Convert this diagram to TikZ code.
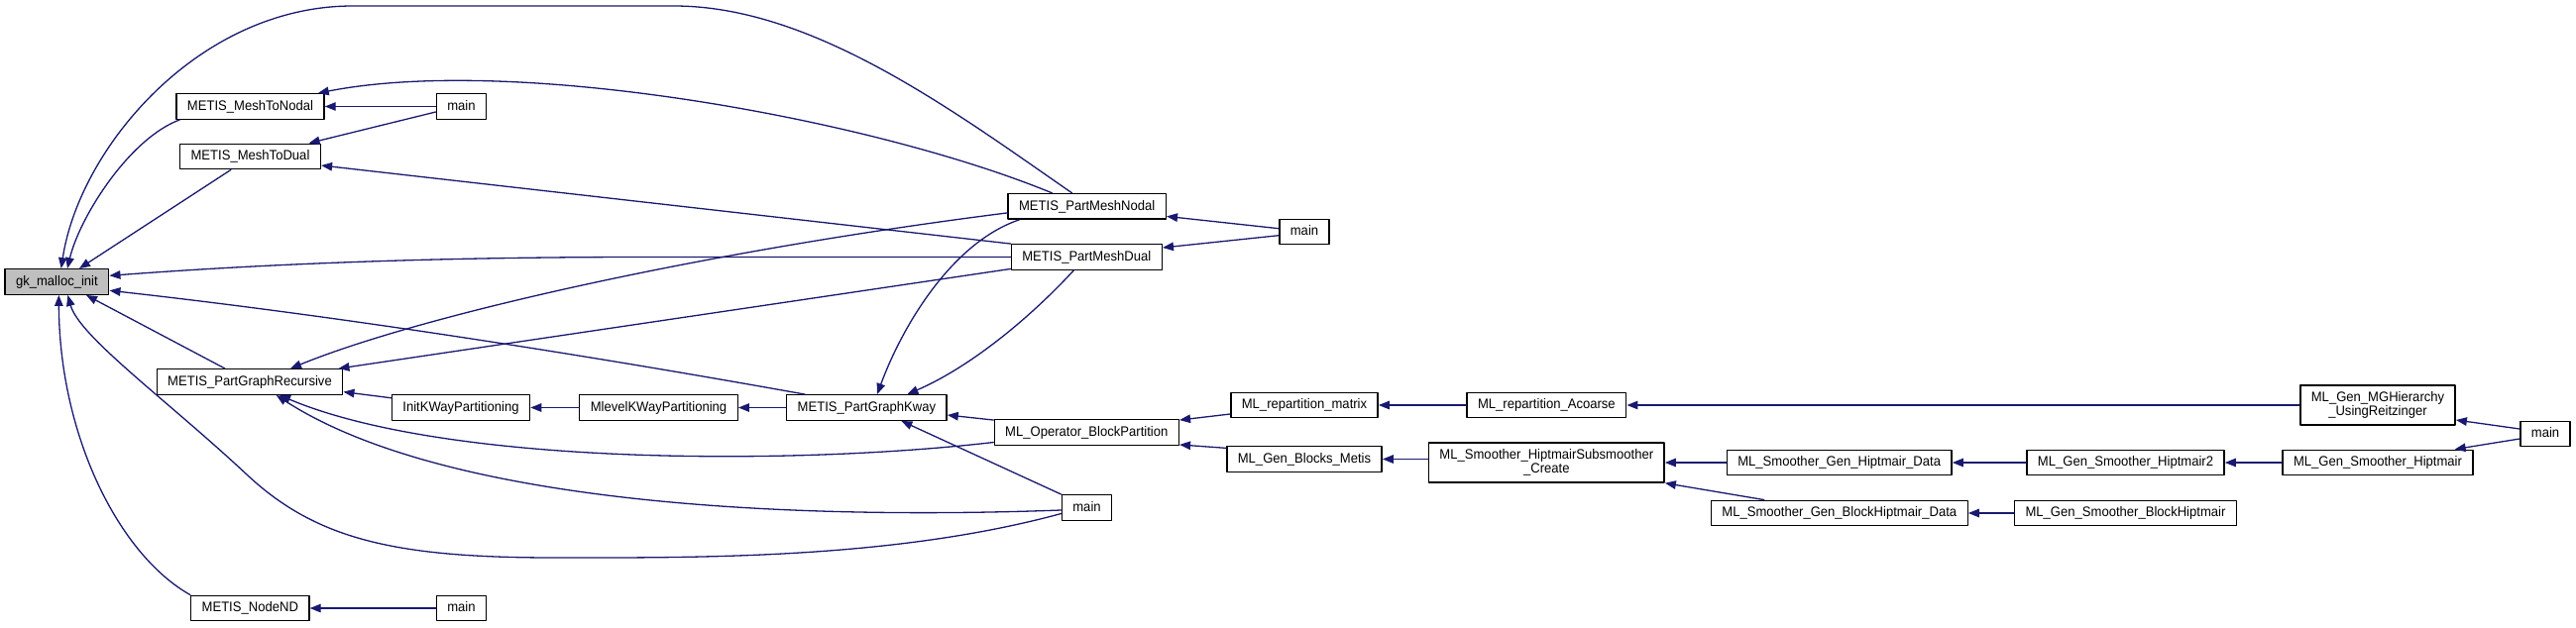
\documentclass[tikz,border=0pt]{standalone}
\usepackage{fontspec}
\setmainfont[FakeStretch=0.94]{Liberation Sans}
\usetikzlibrary{arrows.meta}
\definecolor{midblue}{RGB}{25,25,112}
\definecolor{grey75}{RGB}{191,191,191}

\begin{document}
\begin{tikzpicture}[x=1pt, y=-1pt, line cap=round, line join=round,
  fnode/.style={draw=black, line width=1.4pt, fill=white, rectangle, inner xsep=11pt, inner ysep=0pt,
    font=\fontsize{13.9pt}{14.3pt}\selectfont, text=black},
  func/.style={fnode, minimum height=25.5pt, text height=10.5pt, text depth=3pt},
  func2/.style={fnode, minimum height=40pt, align=center},
  self/.style={func, fill=grey75},
  call/.style={draw=midblue, line width=1.3pt, -{Triangle[length=11pt,width=8.5pt]}}]
  \fill[white] (0,0) rectangle (2599,633);
  \useasboundingbox (0,0) rectangle (2599,633);

  % callee at the left, callers to the right
  \node[self] (gk) at (57.4,284.5) {gk\_malloc\_init};
  \node[func] (mtn) at (252.5,107.5) {METIS\_MeshToNodal};
  \node[func] (mtd) at (252.5,158) {METIS\_MeshToDual};
  \node[func] (pgr) at (252,385.5) {METIS\_PartGraphRecursive};
  \node[func] (nodend) at (252.3,614) {METIS\_NodeND};
  \node[func] (mainA) at (465.5,107.5) {main};
  \node[func] (initkw) at (465,411.5) {InitKWayPartitioning};
  \node[func] (mainND) at (465.5,614) {main};
  \node[func] (mlevel) at (664.5,411.5) {MlevelKWayPartitioning};
  \node[func] (pgk) at (874.4,411.5) {METIS\_PartGraphKway};
  \node[func] (pmn) at (1096.7,208.4) {METIS\_PartMeshNodal};
  \node[func] (pmd) at (1096.3,259.5) {METIS\_PartMeshDual};
  \node[func] (bp) at (1096.3,436.5) {ML\_Operator\_BlockPartition};
  \node[func] (mainPG) at (1096.5,512.5) {main};
  \node[func] (mainPM) at (1316,234) {main};
  \node[func] (rmat) at (1316,409) {ML\_repartition\_matrix};
  \node[func] (gbm) at (1316,463.5) {ML\_Gen\_Blocks\_Metis};
  \node[func] (acoarse) at (1560.4,409) {ML\_repartition\_Acoarse};
  \node[func2] (subcr) at (1560.3,467) {ML\_Smoother\_HiptmairSubsmoother\\\_Create};
  \node[func] (ghd) at (1855.7,467) {ML\_Smoother\_Gen\_Hiptmair\_Data};
  \node[func] (bhd) at (1855.8,518) {ML\_Smoother\_Gen\_BlockHiptmair\_Data};
  \node[func] (gh2) at (2144.5,467) {ML\_Gen\_Smoother\_Hiptmair2};
  \node[func] (gbh) at (2144.5,518) {ML\_Gen\_Smoother\_BlockHiptmair};
  \node[func2] (mgh) at (2399,409) {ML\_Gen\_MGHierarchy\\\_UsingReitzinger};
  \node[func] (gsh) at (2399,467) {ML\_Gen\_Smoother\_Hiptmair};
  \node[func] (mainR) at (2568,438) {main};

  % calls into gk_malloc_init
  \draw[call] ([xshift=-15pt]pmn.north) .. controls (962,112) and (820,6) .. (680,6) -- (356,6)
    .. controls (200,6) and (80,150) .. ([xshift=4.3pt]gk.north);
  \draw[call] ([xshift=4pt]mtn.south west) .. controls (130,140) and (80,220) .. ([xshift=10.6pt]gk.north);
  \draw[call] ([xshift=52pt]mtd.south west) -- ([xshift=22.6pt]gk.north);
  \draw[call] (pmd.west) -- (650,259.5) .. controls (480,259.5) and (300,264) .. ([yshift=6.2pt]gk.east);
  \draw[call] ([xshift=19pt]pgk.north west) .. controls (600,360) and (350,320) .. ([yshift=-8.8pt]gk.east);
  \draw[call] ([xshift=-25pt]pgr.north) -- ([xshift=29.6pt]gk.south);
  \draw[call] ([yshift=-6pt]mainPG.west) .. controls (900,565) and (700,563) .. (560,563)
    .. controls (400,563) and (320,545) .. (250,480) .. controls (170,405) and (80,340) .. ([xshift=11pt]gk.south);
  \draw[call] (nodend.north west) .. controls (120,560) and (60,440) .. ([xshift=1.9pt]gk.south);

  % METIS layer
  \draw[call] (mainA.west) -- (mtn.east);
  \draw[call] ([yshift=-5.5pt]mainA.west) -- ([xshift=-12.5pt]mtd.north east);
  \draw[call] ([xshift=-35pt]pmn.north) .. controls (880,120) and (520,55) .. ([xshift=-7pt]mtn.north east);
  \draw[call] (pmd.north west) -- ([yshift=-9pt]mtd.east);
  \draw[call] ([yshift=-6.5pt]pmn.west) .. controls (700,255) and (420,320) .. ([xshift=41pt]pgr.north);
  \draw[call] ([yshift=1.5pt]pmd.south west) -- ([xshift=-5pt]pgr.north east);
  \draw[call] ([yshift=-3.7pt]initkw.north west) -- ([yshift=3.3pt]pgr.south east);
  \draw[call] ([yshift=-10pt]bp.west) .. controls (800,470) and (450,470) .. ([xshift=30pt]pgr.south);
  \draw[call] ([yshift=-2.5pt]mainPG.west) .. controls (800,525) and (450,510) .. ([xshift=26.7pt]pgr.south);
  \draw[call] (mainND.west) -- (nodend.east);
  \draw[call] (mlevel.west) -- (initkw.east);
  \draw[call] (pgk.west) -- (mlevel.east);
  \draw[call] ([xshift=12pt]pmn.south west) .. controls (960,245) and (910,330) .. ([xshift=10.6pt]pgk.north);
  \draw[call] ([xshift=-13pt]pmd.south) .. controls (1040,320) and (980,370) .. ([xshift=41pt]pgk.north);
  \draw[call] ([yshift=-1pt]bp.north west) -- ([yshift=-7.5pt]pgk.east);
  \draw[call] (mainPG.north west) -- ([xshift=35pt]pgk.south);
  \draw[call] ([yshift=3.3pt]mainPM.west) -- ([yshift=-10pt]pmn.east);
  \draw[call] ([yshift=-3.7pt]mainPM.west) -- ([yshift=9.5pt]pmd.east);

  % ML layer
  \draw[call] ([yshift=-9pt]rmat.west) -- ([yshift=-1pt]bp.north east);
  \draw[call] ([yshift=-2.3pt]gbm.north west) -- ([yshift=1pt]bp.south east);
  \draw[call] (acoarse.west) -- (rmat.east);
  \draw[call] (mgh.west) -- (acoarse.east);
  \draw[call] ([yshift=5pt]mainR.west) -- ([yshift=5.7pt]mgh.south east);
  \draw[call] ([yshift=-5pt]mainR.west) -- ([xshift=-19pt]gsh.north east);
  \draw[call] (gbm.east -| subcr.west) -- (gbm.east);
  \draw[call] (ghd.west) -- (subcr.east);
  \draw[call] ([xshift=54pt]bhd.north west) -- (subcr.south east);
  \draw[call] (gh2.west) -- (ghd.east);
  \draw[call] (gsh.west) -- (gh2.east);
  \draw[call] (gbh.west) -- (bhd.east);
\end{tikzpicture}
\end{document}
